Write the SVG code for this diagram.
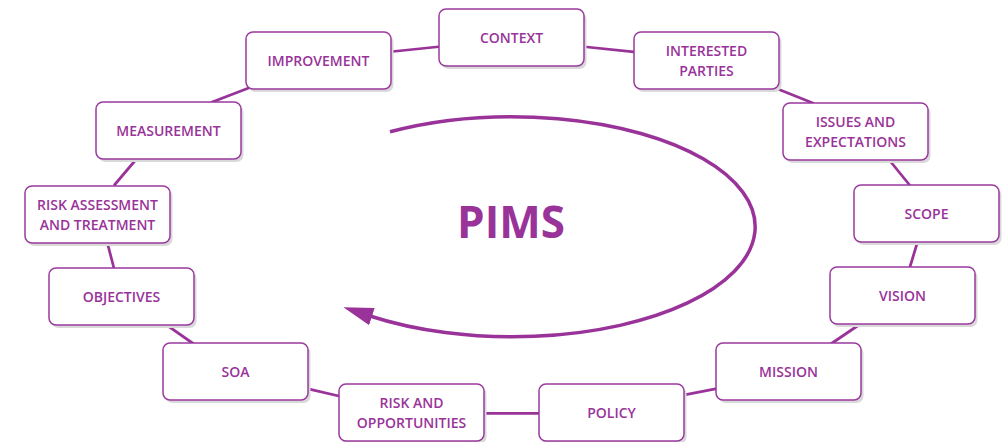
<svg xmlns="http://www.w3.org/2000/svg" width="1008" height="442" viewBox="0 0 1008 442">
<defs>
<style>
.shadow{fill:#d9d9d9}
.box{fill:#ffffff;stroke:#9b3a9e;stroke-width:1.5}
.lbl{font-family:"Open Sans","Liberation Sans",sans-serif;font-weight:600;font-size:14px;fill:#993399;text-anchor:middle}
.conn{stroke:#993399;stroke-width:2.75;fill:none;stroke-linecap:butt}
.title{font-family:"Open Sans","Liberation Sans",sans-serif;font-weight:700;font-size:44px;fill:#993399;text-anchor:middle}
</style>
<marker id="ah" markerUnits="userSpaceOnUse" markerWidth="32" markerHeight="20" refX="2" refY="9" orient="auto">
<path d="M0,0 L30,9 L0,18 Z" fill="#993399"/>
</marker>
</defs>
<rect width="1008" height="442" fill="#ffffff"/>

<g id="connectors">
<line class="conn" x1="388" y1="52" x2="441" y2="46.5"/>
<line class="conn" x1="250" y1="87.5" x2="211" y2="102.5"/>
<line class="conn" x1="136" y1="159.5" x2="114" y2="185.5"/>
<line class="conn" x1="582" y1="46.5" x2="636" y2="52.2"/>
<line class="conn" x1="774" y1="87.5" x2="814" y2="103.5"/>
<line class="conn" x1="888" y1="158.5" x2="910" y2="185.5"/>
<line class="conn" x1="917.8" y1="241" x2="909.5" y2="268.5"/>
<line class="conn" x1="861" y1="323.5" x2="830" y2="344.5"/>
<line class="conn" x1="718" y1="388.3" x2="682" y2="395.4"/>
<line class="conn" x1="541" y1="413.3" x2="482" y2="413.3"/>
<line class="conn" x1="341" y1="396.5" x2="306" y2="388.3"/>
<line class="conn" x1="194.5" y1="344.5" x2="165" y2="323.8"/>
<line class="conn" x1="114.3" y1="269.5" x2="107" y2="241.5"/>
</g>

<g id="cycle">
<path d="M 390 131.7 A 243 110 0 1 1 370 316" fill="none" stroke="#993399" stroke-width="3.5" marker-end="url(#ah)"/>
<text class="title" x="511" y="238">PIMS</text>
</g>

<g id="context">
<rect class="shadow" x="441.5" y="12" width="145" height="57" rx="7"/>
<rect class="box" x="439" y="9" width="145" height="57" rx="7"/>
<text class="lbl" x="511.5" y="42.5">CONTEXT</text>
</g>
<g id="interested-parties">
<rect class="shadow" x="636.5" y="35" width="145" height="57" rx="7"/>
<rect class="box" x="634" y="32" width="145" height="57" rx="7"/>
<text class="lbl" x="706.5" y="55.5">INTERESTED</text>
<text class="lbl" x="706.5" y="75.5">PARTIES</text>
</g>
<g id="issues-expectations">
<rect class="shadow" x="785.5" y="106" width="145" height="57" rx="7"/>
<rect class="box" x="783" y="103" width="145" height="57" rx="7"/>
<text class="lbl" x="855.5" y="126.5">ISSUES AND</text>
<text class="lbl" x="855.5" y="146.5">EXPECTATIONS</text>
</g>
<g id="scope">
<rect class="shadow" x="856.5" y="188" width="145" height="57" rx="7"/>
<rect class="box" x="854" y="185" width="145" height="57" rx="7"/>
<text class="lbl" x="926.5" y="218.5">SCOPE</text>
</g>
<g id="vision">
<rect class="shadow" x="832.5" y="270" width="145" height="57" rx="7"/>
<rect class="box" x="830" y="267" width="145" height="57" rx="7"/>
<text class="lbl" x="902.5" y="300.5">VISION</text>
</g>
<g id="mission">
<rect class="shadow" x="718.5" y="346" width="145" height="57" rx="7"/>
<rect class="box" x="716" y="343" width="145" height="57" rx="7"/>
<text class="lbl" x="788.5" y="376.5">MISSION</text>
</g>
<g id="policy">
<rect class="shadow" x="541.5" y="387" width="145" height="57" rx="7"/>
<rect class="box" x="539" y="384" width="145" height="57" rx="7"/>
<text class="lbl" x="611.5" y="417.5">POLICY</text>
</g>
<g id="risk-opportunities">
<rect class="shadow" x="341.5" y="387" width="145" height="57" rx="7"/>
<rect class="box" x="339" y="384" width="145" height="57" rx="7"/>
<text class="lbl" x="411.5" y="407.5">RISK AND</text>
<text class="lbl" x="411.5" y="427.5">OPPORTUNITIES</text>
</g>
<g id="soa">
<rect class="shadow" x="165.5" y="346" width="145" height="57" rx="7"/>
<rect class="box" x="163" y="343" width="145" height="57" rx="7"/>
<text class="lbl" x="235.5" y="376.5">SOA</text>
</g>
<g id="objectives">
<rect class="shadow" x="51.5" y="271" width="145" height="57" rx="7"/>
<rect class="box" x="49" y="268" width="145" height="57" rx="7"/>
<text class="lbl" x="121.5" y="301.5">OBJECTIVES</text>
</g>
<g id="risk-assessment">
<rect class="shadow" x="27.5" y="189" width="145" height="57" rx="7"/>
<rect class="box" x="25" y="186" width="145" height="57" rx="7"/>
<text class="lbl" x="97.5" y="209.5">RISK ASSESSMENT</text>
<text class="lbl" x="97.5" y="229.5">AND TREATMENT</text>
</g>
<g id="measurement">
<rect class="shadow" x="98.5" y="105" width="145" height="57" rx="7"/>
<rect class="box" x="96" y="102" width="145" height="57" rx="7"/>
<text class="lbl" x="168.5" y="135.5">MEASUREMENT</text>
</g>
<g id="improvement">
<rect class="shadow" x="248.5" y="35" width="145" height="57" rx="7"/>
<rect class="box" x="246" y="32" width="145" height="57" rx="7"/>
<text class="lbl" x="318.5" y="65.5">IMPROVEMENT</text>
</g>
</svg>
